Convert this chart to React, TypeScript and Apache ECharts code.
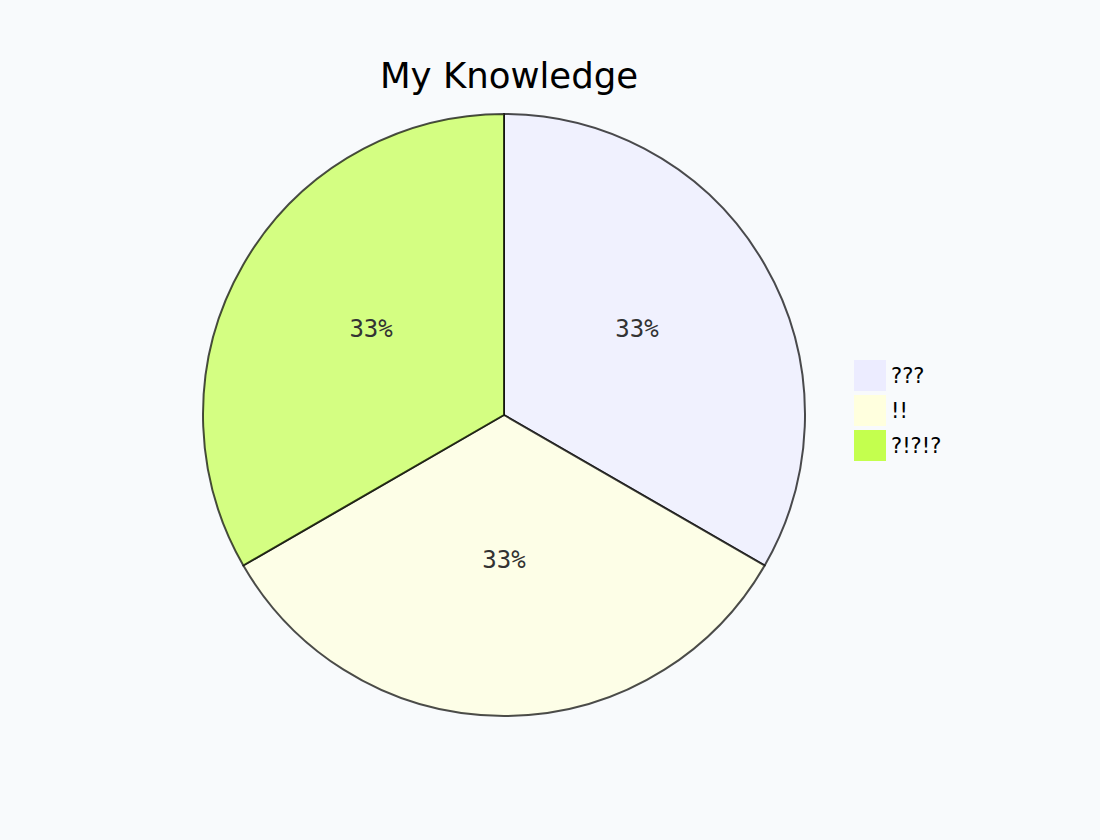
import React, { useEffect, useRef } from "react";
import * as echarts from "echarts";

const categories = ["???", "!!", "?!?!?"];
const values = [100, 100, 100];
const colors = ["#ECECFF", "#FFFFDE", "#C4FF4E"];
const title = "My Knowledge";

export default function App() {
  const ref = useRef<HTMLDivElement>(null);
  useEffect(() => {
    document.body.style.margin = "0";
    const chart = echarts.init(ref.current!, null, { renderer: "svg" });
    chart.setOption({
      animation: false,
      backgroundColor: "#F8FAFC",
      title: {
        text: title,
        left: 504,
        textAlign: "center",
        top: 52,
        textStyle: {
          fontFamily: "DejaVu Sans",
          fontSize: 35.5,
          fontWeight: "normal",
          color: "#000",
        },
      },
      legend: {
        orient: "vertical",
        left: 854,
        top: 360,
        padding: 0,
        itemWidth: 32,
        itemHeight: 31,
        itemGap: 4,
        icon: "rect",
        selectedMode: false,
        data: categories,
        itemStyle: { opacity: 1, borderWidth: 0 },
        textStyle: { fontFamily: "DejaVu Sans", fontSize: 21, color: "#000" },
      },
      series: [
        {
          type: "pie",
          center: [504, 415],
          radius: 301,
          startAngle: 90,
          clockwise: true,
          silent: true,
          data: categories.map((c, i) => ({
            name: c,
            value: values[i],
            itemStyle: { color: colors[i] },
          })),
          itemStyle: { opacity: 0.7, borderColor: "#000", borderWidth: 2 },
          label: {
            show: true,
            position: "inside",
            offset: [0, -9],
            formatter: (p: any) => Math.round(p.percent) + "%",
            fontFamily: "DejaVu Sans Mono",
            fontSize: 24,
            color: "#333",
            opacity: 1,
          },
          labelLine: { show: false },
        },
      ],
    });
    return () => chart.dispose();
  }, []);
  return <div ref={ref} style={{ width: 1100, height: 840 }} />;
}
